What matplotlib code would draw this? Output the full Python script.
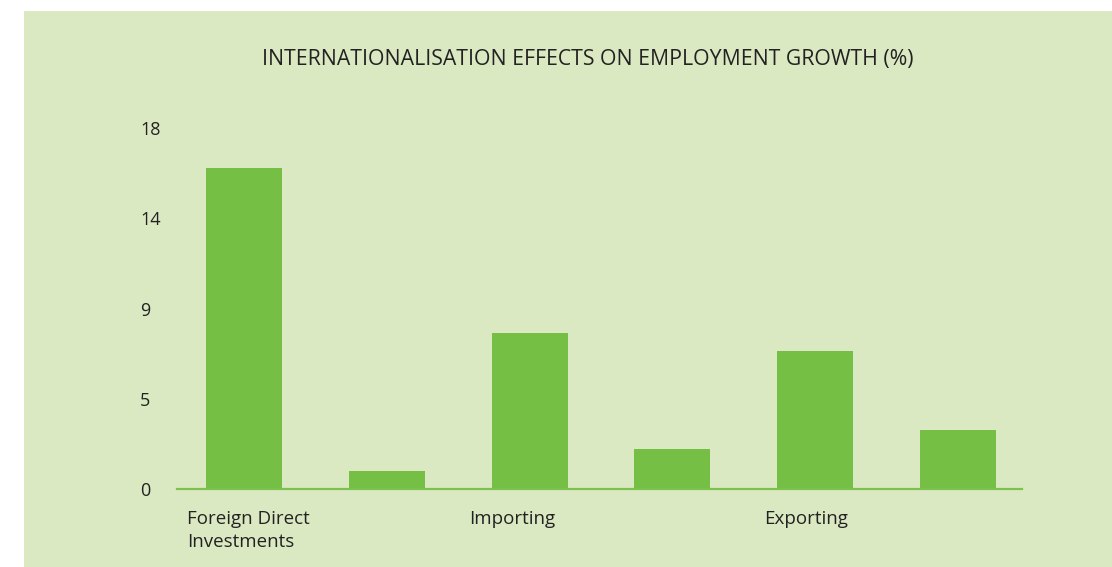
import numpy as np
import matplotlib
matplotlib.use("Agg")
import matplotlib.pyplot as plt
from matplotlib.patches import Rectangle
from matplotlib import transforms

# ---- data ----
groups = ["Foreign Direct\nInvestments", "Importing", "Exporting"]
series_a = [16.0, 7.8, 6.9]
series_b = [0.9, 2.0, 2.95]
ytick_values = [0, 4.5, 9, 13.5, 18]
ytick_labels = ["0", "5", "9", "14", "18"]
title = "INTERNATIONALISATION EFFECTS ON EMPLOYMENT GROWTH (%)"

BG = "#dbe9c2"
BAR = "#74bf44"
LINE = "#7cc24e"
TXT = "#222222"
FONT = ["Open Sans", "DejaVu Sans"]

W, H = 1112, 567
fig = plt.figure(figsize=(W / 100, H / 100), dpi=100)
fig.patch.set_facecolor("white")
fig.patches.append(Rectangle((24 / W, 0), 1 - 24 / W, (H - 11) / H,
                             transform=fig.transFigure, facecolor=BG,
                             edgecolor="none", zorder=-10))

ax_left, ax_right = 177, 1022
ax_top, ax_bot = 128, 489
ax = fig.add_axes([ax_left / W, (H - ax_bot) / H,
                   (ax_right - ax_left) / W, (ax_bot - ax_top) / H])
ax.set_facecolor("none")

n = len(groups)
pos_a = np.arange(n) * 2
pos_b = pos_a + 1
bw = 0.532
ax.bar(pos_a, series_a, width=bw, color=BAR, zorder=2)
ax.bar(pos_b, series_b, width=bw, color=BAR, zorder=2)

ax.set_xlim(-0.469, 5.448)
ax.set_ylim(0, 18)

for s in ["top", "right", "left"]:
    ax.spines[s].set_visible(False)
ax.spines["bottom"].set_color(LINE)
ax.spines["bottom"].set_linewidth(1.6)
ax.spines["bottom"].set_zorder(3)

ax.set_xticks([])
ax.set_yticks(ytick_values)
ax.set_yticklabels(ytick_labels, fontsize=13, color=TXT, family=FONT)
ax.tick_params(axis="y", length=0, pad=26.6)
for lab in ax.get_yticklabels():
    lab.set_horizontalalignment("left")

trans = transforms.blended_transform_factory(ax.transData, ax.transAxes)
label_x = [pos_a[0] - 0.4, pos_a[1] - 0.42, pos_a[2] - 0.36]
for i, g in enumerate(groups):
    ax.annotate(g, xy=(label_x[i], 0), xycoords=trans,
                xytext=(0, -15), textcoords="offset points",
                ha="left", va="top", fontsize=13.5, color=TXT,
                family=FONT, linespacing=1.38, annotation_clip=False)

fig.text(587.5 / W, 1 - 59 / H, title, ha="center", va="center",
         fontsize=15.3, color=TXT, family=FONT)

fig.savefig("out.png", dpi=100, facecolor=fig.get_facecolor())
